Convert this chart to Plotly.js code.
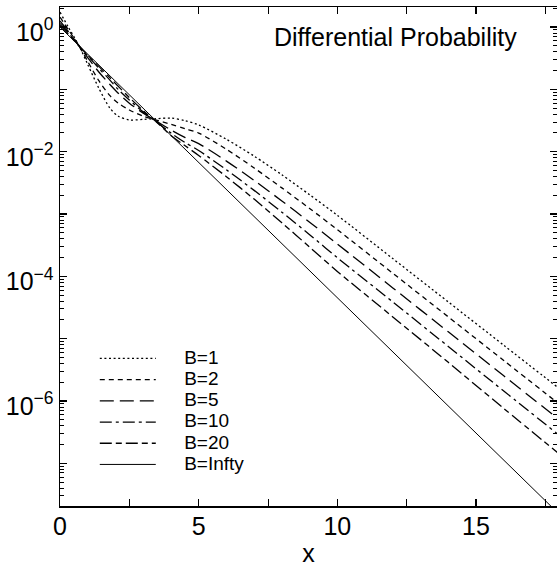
<!DOCTYPE html>
<html>
<head>
<meta charset="utf-8">
<script src="https://cdn.plot.ly/plotly-3.0.1.min.js"></script>
<style>html,body{margin:0;padding:0;background:#fff;}#chart{width:557px;height:567px;}</style>
</head>
<body>
<div id="chart"></div>
<script>
// x positions where values were read
const xs = [0,0.3,0.7,1,1.4,1.8,2.1,2.5,3,3.45,4,4.5,5,6,7,8,9,10,12,14,16,18];

// series values (log axis)
const b1 = [1.738,1.0,0.4898,0.2512,0.1047,0.05012,0.03715,0.03236,0.03311,0.03388,0.03467,0.03162,
            0.02692,0.01585,0.008511,0.004266,0.002042,9.550e-4,1.928e-4,3.890e-5,7.852e-6,1.585e-6];
const b2 = [1.445,0.9120,0.4898,0.2818,0.1380,0.07943,0.06026,0.04677,0.03715,0.03236,0.02754,0.02344,
            0.01995,0.01096,0.005495,0.002630,0.001230,5.623e-4,1.122e-4,2.239e-5,4.467e-6,8.913e-7];
const b5 = [1.259,0.8511,0.4898,0.3236,0.1905,0.1202,0.08710,0.06026,0.04169,0.03162,0.02239,0.01698,
            0.01349,0.007079,0.003467,0.001622,7.413e-4,3.311e-4,6.531e-5,1.288e-5,2.541e-6,5.012e-7];
const b10 = [1.148,0.8128,0.4898,0.3467,0.2188,0.1413,0.1,0.06761,0.04365,0.03090,0.01995,0.01413,
             0.01047,0.005129,0.002399,0.001072,4.677e-4,1.995e-4,3.890e-5,7.499e-6,1.445e-6,2.818e-7];
const b20 = [1.072,0.7762,0.4898,0.3548,0.2344,0.1549,0.1122,0.07413,0.04571,0.03090,0.01820,0.01259,
             0.008710,0.003981,0.001738,7.244e-4,2.951e-4,1.202e-4,2.239e-5,4.169e-6,7.586e-7,1.413e-7];
const xInf = [0, 18];
const bInf = [1.0, 1.523e-8];

const seriesNames = ['B=1','B=2','B=5','B=10','B=20','B=Infty'];

// axis tick labels
const xTickVals = [0,5,10,15];
const xTickText = ['0','5','10','15'];
const yLabelVals = [1,1e-2,1e-4,1e-6];
const yLabelText = ['10<sup>0</sup>','10<sup>\u22122</sup>','10<sup>\u22124</sup>','10<sup>\u22126</sup>'];
const yOddDecades = [1e-1,1e-3,1e-5,1e-7];
const yAllDecades = [1,1e-1,1e-2,1e-3,1e-4,1e-5,1e-6,1e-7];

const FONT = 'Liberation Sans, Arial, Helvetica, sans-serif';
const dashes = ['2px,2.6px','5px,4px','14px,6px','12px,4px,3px,4px','12px,4px,6px,4px','solid'];
const ys = [b1,b2,b5,b10,b20,bInf];
const YRANGE = [-7.685, 0.323];
const SP = '\u00a0\u00a0\u00a0\u00a0\u00a0\u00a0';

const traces = ys.map((y,i)=>({
  x: i===5 ? xInf : xs,
  y: y,
  type:'scatter', mode:'lines',
  name: SP+'<span style="font-size:19px">'+seriesNames[i]+'</span>',
  line:{color:'#000', width: i===5?1:1.3, dash:dashes[i], shape: i===5?'linear':'spline', smoothing:0.8},
  hoverinfo:'skip'
}));
// carrier traces so the tick-only overlay axes are drawn
traces.push({x:[0], y:[1], yaxis:'y2', mode:'lines', showlegend:false, hoverinfo:'skip', line:{width:0}});
traces.push({x:[0], y:[1], yaxis:'y3', mode:'lines', showlegend:false, hoverinfo:'skip', line:{width:0}});

const minorY = [];
for (let e=-8; e<=0; e++) for (let k=2;k<=9;k++) minorY.push(k*Math.pow(10,e));
const minorSpec = {tickmode:'array', tickvals:minorY, ticks:'inside', ticklen:4, tickwidth:1, tickcolor:'#000'};

const layout = {
  width:557, height:567,
  margin:{l:60, r:0, t:7, b:61},
  paper_bgcolor:'#fff', plot_bgcolor:'#fff',
  font:{family:FONT, color:'#000', size:25},
  showlegend:true,
  legend:{x:0.07, y:0.327, xanchor:'left', yanchor:'top', bgcolor:'rgba(0,0,0,0)',
          font:{family:FONT, size:14, color:'#000'}, itemwidth:56, tracegroupgap:0},
  xaxis:{range:[0,17.92], tickmode:'array', tickvals:xTickVals, ticktext:xTickText,
         ticks:'inside', ticklen:7, tickwidth:1.3, tickcolor:'#000',
         showline:true, linecolor:'#000', linewidth:1.5, mirror:'allticks',
         showgrid:false, zeroline:false, tickfont:{size:25}, ticklabelstandoff:-3,
         minor:{dtick:2.5, tick0:0, ticks:'inside', ticklen:4, tickwidth:1, tickcolor:'#000'},
         title:{text:'x', font:{size:25}, standoff:25}},
  yaxis:{type:'log', range:YRANGE, tickmode:'array', tickvals:yLabelVals, ticktext:yLabelText,
         ticks:'inside', ticklen:7, tickwidth:1.3, tickcolor:'#000',
         showline:true, linecolor:'#000', linewidth:1.5, mirror:false, ticklabelshift:5,
         showgrid:false, zeroline:false, tickfont:{size:25},
         minor:minorSpec},
  yaxis2:{type:'log', range:YRANGE, overlaying:'y', side:'right', tickmode:'array', tickvals:yAllDecades,
          ticks:'inside', ticklen:7, tickwidth:1.3, tickcolor:'#000', showticklabels:false,
          showline:false, showgrid:false, zeroline:false, minor:minorSpec},
  yaxis3:{type:'log', range:YRANGE, overlaying:'y', side:'left', tickmode:'array', tickvals:yOddDecades,
          ticks:'inside', ticklen:7, tickwidth:1.3, tickcolor:'#000', showticklabels:false,
          showline:false, showgrid:false, zeroline:false},
  annotations:[{text:'Differential Probability', xref:'paper', yref:'paper', x:0.924, y:0.94,
                xanchor:'right', yanchor:'middle', showarrow:false, font:{size:25, family:FONT}}]
};

Plotly.newPlot('chart', traces, layout, {staticPlot:true, displayModeBar:false});
</script>
</body>
</html>
